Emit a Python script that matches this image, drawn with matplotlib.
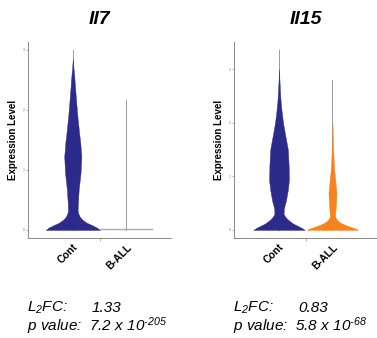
import matplotlib
matplotlib.use("Agg")
import matplotlib.pyplot as plt
import matplotlib.transforms as mtransforms

plt.rcParams['font.family'] = ['Liberation Sans', 'DejaVu Sans']
plt.rcParams['mathtext.fontset'] = 'custom'
plt.rcParams['mathtext.rm'] = 'Liberation Sans:italic'
plt.rcParams['mathtext.it'] = 'Liberation Sans:italic'

groups = ['Cont', 'B-ALL']
genes = ['Il7', 'Il15']
navy = '#2c2b8c'
orange = '#f7831f'

# violin outlines: expression level -> half width
il7_cont_level = [0, 0.04, 0.08, 0.12, 0.17, 0.22, 0.28, 0.33, 0.45, 0.67, 0.95, 1.22, 1.45, 1.6, 1.9, 2.17, 2.4, 2.55, 2.7, 2.85]
il7_cont_width = [0.51, 0.45, 0.36, 0.26, 0.18, 0.13, 0.10, 0.09, 0.095, 0.11, 0.145, 0.16, 0.14, 0.12, 0.085, 0.06, 0.04, 0.028, 0.012, 0]
il7_ball_level = [0, 0.02]
il7_ball_width = [0.5, 0.5]
il7_max = [3.0, 2.17]

il15_cont_level = [0, 0.04, 0.08, 0.12, 0.18, 0.24, 0.3, 0.4, 0.55, 0.75, 0.93, 1.2, 1.5, 1.8, 2.0, 2.2, 2.4, 2.6, 2.8, 3.0]
il15_cont_width = [0.48, 0.42, 0.34, 0.26, 0.18, 0.12, 0.085, 0.09, 0.13, 0.165, 0.185, 0.18, 0.165, 0.11, 0.075, 0.05, 0.03, 0.018, 0.008, 0]
il15_ball_level = [0, 0.03, 0.06, 0.1, 0.14, 0.18, 0.24, 0.3, 0.43, 0.6, 0.7, 0.85, 0.95, 1.1, 1.3, 1.5, 1.7, 2.0]
il15_ball_width = [0.48, 0.42, 0.33, 0.22, 0.14, 0.09, 0.05, 0.05, 0.062, 0.072, 0.074, 0.06, 0.05, 0.035, 0.022, 0.014, 0.008, 0]
il15_max = [3.35, 2.8]

l2fc = ['1.33', '0.83']
pval = ['7.2 x 10$^{\u2010205}$', '5.8 x 10$^{\u201068}$']

fig = plt.figure(figsize=(3.77, 3.38), dpi=100)

def violin(ax, pos, level, width, top, color):
    ax.plot([pos, pos], [0, top], color='#9a9a9a', lw=0.7, zorder=1)
    left = [pos - w for w in width]
    right = [pos + w for w in width]
    ax.fill_betweenx(level, left, right, color=color, lw=0.3, edgecolor=color, zorder=2)

def panel(rect, ylim, title, shapes, maxes, fc, pv):
    ax = fig.add_axes(rect)
    for i, (lev, wid, col) in enumerate(shapes):
        violin(ax, i + 1, lev, wid, maxes[i], col)
    ax.set_xlim(0.16, 2.84)
    ax.set_ylim(ylim)
    for s in ['top', 'right']:
        ax.spines[s].set_visible(False)
    for s in ['left', 'bottom']:
        ax.spines[s].set_color('#777777')
        ax.spines[s].set_linewidth(0.6)
    ax.set_yticks([0, 1, 2, 3])
    ax.tick_params(axis='y', labelsize=2.5, length=1.5, width=0.4, pad=1, colors='#777777')
    ax.set_xticks([1, 2])
    ax.set_xticklabels(groups, rotation=45, ha='right', rotation_mode='anchor',
                       fontsize=7.5, fontweight='bold')
    shift = mtransforms.ScaledTranslation(0.07, 0, fig.dpi_scale_trans)
    for lab in ax.get_xticklabels():
        lab.set_transform(lab.get_transform() + shift)
    ax.tick_params(axis='x', length=0, pad=3)
    ax.set_xticks([1.5], minor=True)
    ax.tick_params(axis='x', which='minor', length=2, width=0.4, color='#777777')
    ax.set_ylabel('Expression Level', fontsize=7, fontweight='bold', labelpad=3)
    ax.set_title(title, fontsize=14, fontweight='bold', style='italic', pad=13)
    x0 = rect[0] - 0.002
    fig.text(x0, 0.088, 'L$_2$FC:', fontsize=11, style='italic', va='center')
    fig.text(x0 + 0.172, 0.088, fc, fontsize=11, style='italic', va='center')
    fig.text(x0, 0.035, 'p value:  ' + pv, fontsize=11, style='italic', va='center')
    return ax

panel([0.074, 0.296, 0.38, 0.58], (-0.133, 3.13), genes[0],
      [(il7_cont_level, il7_cont_width, navy), (il7_ball_level, il7_ball_width, '#aaaaaa')],
      il7_max, l2fc[0], pval[0])
panel([0.621, 0.296, 0.38, 0.58], (-0.15, 3.51), genes[1],
      [(il15_cont_level, il15_cont_width, navy), (il15_ball_level, il15_ball_width, orange)],
      il15_max, l2fc[1], pval[1])

fig.savefig('out.png', dpi=100)
